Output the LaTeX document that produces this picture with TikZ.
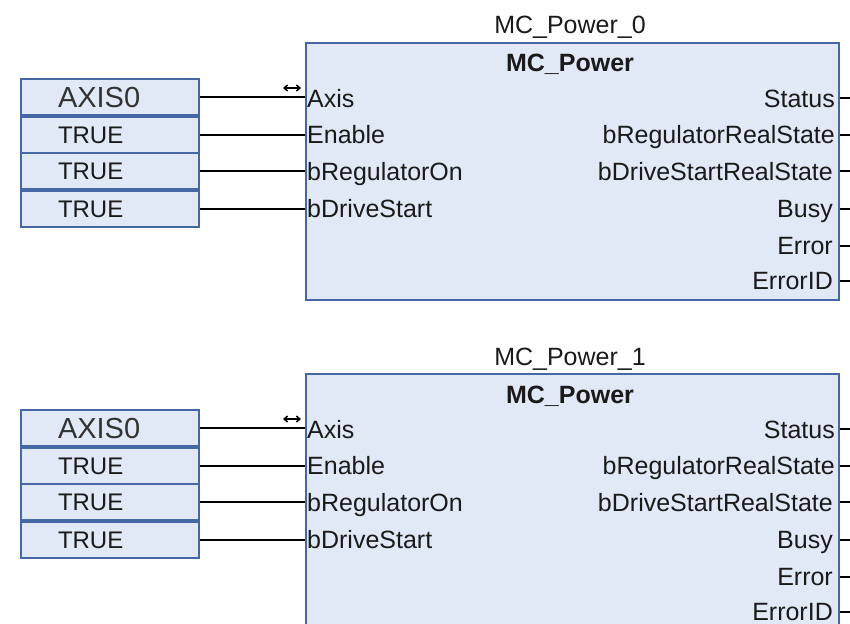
\documentclass[tikz,border=0pt]{standalone}
\usepackage{fontspec}
\setmainfont{Liberation Sans}
\usetikzlibrary{arrows.meta}
\definecolor{fbfill}{HTML}{E2E9F6}
\definecolor{fbline}{HTML}{4567A5}
\definecolor{txt}{HTML}{1A1A1A}
\begin{document}
\begin{tikzpicture}[x=1pt,y=-1pt,
  fbox/.style={draw=fbline,fill=fbfill,line width=2pt,inner sep=0pt},
  pin/.style={font=\fontsize{25}{25}\selectfont,text=txt,inner sep=0pt,text height=17.6pt,text depth=0pt},
  lit/.style={fbox,anchor=north west,minimum height=36pt,text width=104pt,inner xsep=37pt,align=left,
     font=\fontsize{24}{24}\selectfont,text=txt,text height=17.2pt,text depth=0pt},
  wire/.style={line width=2pt,black},
  stub/.style={line width=1.6pt,black},
  axarrow/.style={line width=1.5pt,{Straight Barb[length=3.5pt,width=6pt]}-{Straight Barb[length=3.5pt,width=6pt]}}]
\useasboundingbox (0,0) rectangle (850,623);
\clip (0,0) rectangle (850,623);
\foreach \dy/\n/\h in {0/0/257,331/1/300}{
\begin{scope}[shift={(0,\dy)}]
  \node[fbox,anchor=north west,minimum width=533pt,minimum height=\h pt] (blk\n) at (305,42) {};
  \node[pin,anchor=base,text height=,text depth=] (title\n) at (570,34) {MC\_Power\_\n};
  \node[pin,anchor=base,font=\fontsize{25}{25}\selectfont\bfseries] (type\n) at (570,72) {MC\_Power};
  % inputs
  \node[pin,anchor=base west] (iA\n) at (307,107) {Axis};
  \node[pin,anchor=base west] (iE\n) at (307,143.5) {Enable};
  \node[pin,anchor=base west] (iR\n) at (307,180) {bRegulatorOn};
  \node[pin,anchor=base west] (iD\n) at (307,217.5) {bDriveStart};
  % outputs
  \node[pin,anchor=base east] (oS\n) at (835,107) {Status};
  \node[pin,anchor=base east] (oR\n) at (835,143.5) {bRegulatorRealState};
  \node[pin,anchor=base east] (oD\n) at (833,180) {bDriveStartRealState};
  \node[pin,anchor=base east] (oB\n) at (833,217.5) {Busy};
  \node[pin,anchor=base east] (oE\n) at (833,254.5) {Error};
  \node[pin,anchor=base east] (oI\n) at (833,289.5) {ErrorID};
  % literal boxes
  \node[lit,font=\fontsize{29}{29}\selectfont,text=black!80,text height=20.8pt] (lA\n) at (20,78) {AXIS0};
  \node[lit] (lE\n) at (20,116) {TRUE};
  \node[lit] (lR\n) at (20,152) {TRUE};
  \node[lit] (lD\n) at (20,190) {TRUE};
  % wires
  \draw[wire] (lA\n.east) -- (lA\n.east -| blk\n.west);
  \draw[wire] (lE\n.east) -- (lE\n.east -| blk\n.west);
  \draw[wire] (lR\n.east) -- (lR\n.east -| blk\n.west);
  \draw[wire] (lD\n.east) -- (lD\n.east -| blk\n.west);
  \draw[axarrow] (283,88) -- (301,88);
  \foreach \o in {oS,oR,oD,oB,oE,oI}{
    \draw[stub] (blk\n.east |- \o\n.west) -- ++(10,0);
  }
\end{scope}}
\end{tikzpicture}
\end{document}
